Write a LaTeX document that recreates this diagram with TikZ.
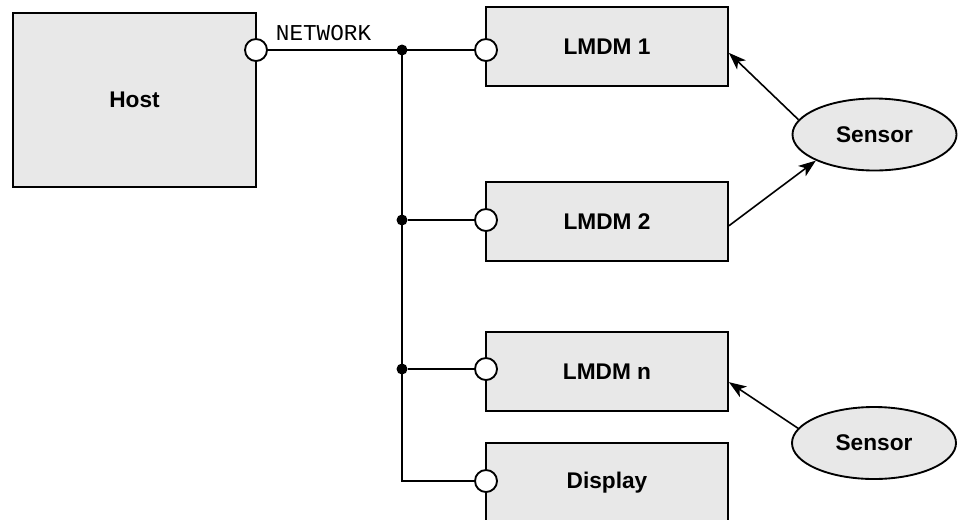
\documentclass[tikz,border=0pt]{standalone}
\usepackage{fontspec}
\setmainfont{Liberation Sans}
\newfontfamily\netfont{Liberation Mono}
\usetikzlibrary{shapes.geometric,arrows.meta}

\tikzset{every picture/.style={line width=0.75pt}}
\definecolor{boxgray}{RGB}{232,232,232}

\begin{document}
\begin{tikzpicture}[
            x=0.75pt,
            y=0.75pt,
            yscale=-1,
            xscale=1,
            every node/.style={text=black},
            line width=1.4pt,
            unitbox/.style={draw=black,fill=boxgray,minimum width=181.5pt,minimum height=59.25pt,inner sep=0pt,font=\fontsize{17}{19}\selectfont\bfseries},
            hostbox/.style={unitbox,minimum width=182.25pt,minimum height=130.5pt},
            sensorblob/.style={draw=black,fill=boxgray,ellipse,minimum width=123pt,minimum height=54pt,inner sep=0pt,font=\fontsize{17}{19}\selectfont\bfseries},
            port/.style={draw=black,fill=white,circle,minimum size=16.5pt,inner sep=0pt},
            junction/.style={fill=black,circle,minimum size=8.25pt,inner sep=0pt},
            sensorarrow/.style={-{Stealth[length=13pt,width=9.5pt,inset=3.5pt]},line width=1.2pt}
        ]
            \useasboundingbox (0,0) rectangle (960,519);
            \clip (0,0) rectangle (960,519);
            % boxes
            \node[hostbox] (host) at (134.5,100) {Host};
            \node[unitbox] (lmdm1) at (607,46.5) {LMDM 1};
            \node[unitbox] (lmdm2) at (607,221.5) {LMDM 2};
            \node[unitbox] (lmdmn) at (607,371.5) {LMDM n};
            \node[unitbox] (display) at (607,482.5) {Display};
            \node[sensorblob] (sensor1) at (874.5,134.5) {Sensor};
            \node[sensorblob] (sensor2) at (874,443) {Sensor};
            % network
            \node[port] (hostport) at (256,50) {};
            \node[port] (port1) at (486,50) {};
            \node[port] (port2) at (486,220) {};
            \node[port] (portn) at (486,369) {};
            \node[port] (portd) at (486,481) {};
            \node[junction] (junc1) at (402,50) {};
            \node[junction] (junc2) at (402,220) {};
            \node[junction] (junc3) at (402,369) {};
            \coordinate (corner) at (402,481);
            \node[anchor=base west,inner sep=0pt,font=\netfont\fontsize{17}{19}\selectfont] (netlabel) at (275,40) {NETWORK};
            \draw (hostport) -- (port1);
            \draw (junc1.center) -- (corner) -- (portd);
            \draw (junc2) -- (port2);
            \draw (junc3) -- (portn);
            % sensor arrows
            \draw[sensorarrow] (sensor1.169) -- (lmdm1.-3);
            \draw[sensorarrow] (lmdm2.-2) -- (sensor1.204);
            \draw[sensorarrow] (sensor2.169) -- (lmdmn.-5);
        \end{tikzpicture}
\end{document}
